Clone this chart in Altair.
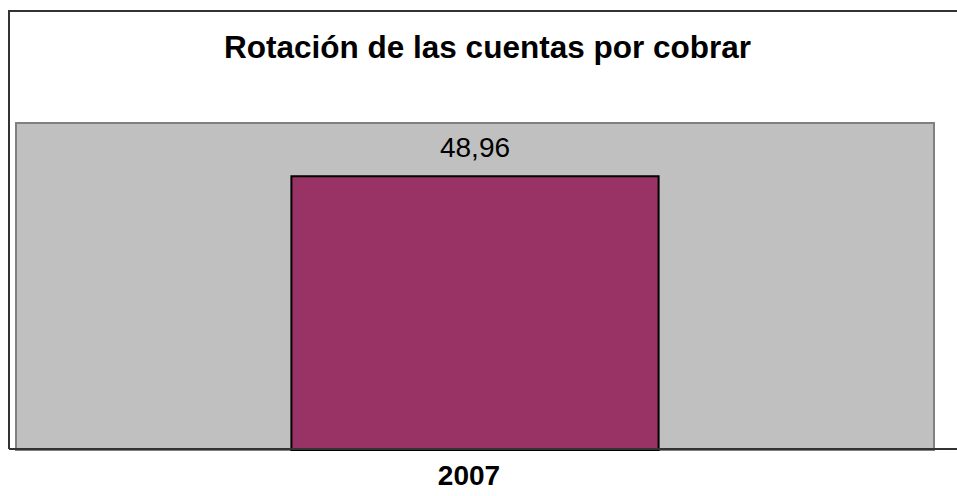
import altair as alt
import pandas as pd

TITLE = "Rotación de las cuentas por cobrar"
years = ["2007"]
values = [48.96]
labels = ["48,96"]

df = pd.DataFrame({"year": years, "value": values, "label": labels})

FONT = "Liberation Sans"

x_enc = alt.X(
    "year:N",
    title=None,
    scale=alt.Scale(paddingInner=0.6, paddingOuter=0.3),
    axis=alt.Axis(
        domain=False, ticks=False, labelAngle=0, labelFont=FONT,
        labelFontSize=28, labelFontWeight="bold", labelColor="#000000",
        labelBaseline="alphabetic", labelPadding=34, labelOffset=-6,
    ),
)
y_enc = alt.Y("value:Q", scale=alt.Scale(domain=[0, 58.46]), axis=None)

base = alt.Chart(df)

bars = base.mark_bar(color="#993366", stroke="#000000", strokeWidth=2).encode(
    x=x_enc, y=y_enc
)

text = base.mark_text(
    font=FONT, fontSize=28, color="#000000", baseline="alphabetic", dy=-19
).encode(x=x_enc, y=y_enc, text="label:N")

title = base.mark_text(
    font=FONT, fontSize=31.5, fontWeight="bold", color="#000000",
    baseline="alphabetic", align="center",
).encode(x=alt.value(471.5), y=alt.value(-65.3), text=alt.value(TITLE))

frame_top = base.mark_rule(color="#333333", strokeWidth=2).encode(
    x=alt.value(-7), x2=alt.value(941), y=alt.value(-112)
)
frame_left = base.mark_rule(color="#333333", strokeWidth=2).encode(
    x=alt.value(-7), y=alt.value(-113), y2=alt.value(326)
)
frame_bottom = base.mark_rule(color="#333333", strokeWidth=2).encode(
    x=alt.value(-7), x2=alt.value(941), y=alt.value(326)
)

chart = (
    alt.layer(bars, text, title, frame_top, frame_left, frame_bottom)
    .properties(
        width=918,
        height=327,
        autosize=alt.AutoSizeParams(type="none"),
        padding={"left": 16, "top": 123, "right": 23, "bottom": 46},
        background="#FFFFFF",
    )
    .configure_view(fill="#C0C0C0", stroke="#808080", strokeWidth=2)
)

chart.save("out.html", embed_options={"renderer": "svg", "actions": False})
